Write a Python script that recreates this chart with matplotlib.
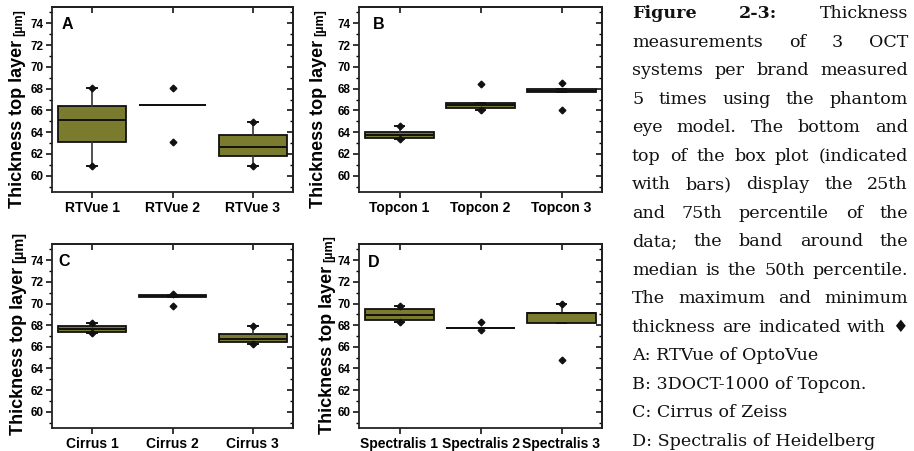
import matplotlib
matplotlib.use("Agg")
import matplotlib.pyplot as plt
from matplotlib.ticker import MultipleLocator, FixedLocator

# ---------------- data ----------------
A_labels = ['RTVue 1', 'RTVue 2', 'RTVue 3']
A_q1 = [63.07, 66.45, 61.84]
A_med = [65.10, 66.45, 62.64]
A_q3 = [66.40, 66.45, 63.78]
A_whislo = [60.86, 66.45, 60.86]
A_whishi = [68.10, 66.45, 64.90]
A_min = [60.86, 63.07, 60.86]
A_max = [68.10, 68.10, 64.90]

B_labels = ['Topcon 1', 'Topcon 2', 'Topcon 3']
B_q1 = [63.50, 66.20, 67.67]
B_med = [63.70, 66.45, 67.80]
B_q3 = [63.99, 66.70, 67.98]
B_whislo = [63.38, 66.00, 67.67]
B_whishi = [64.60, 66.70, 67.98]
B_min = [63.38, 66.00, 66.08]
B_max = [64.60, 68.40, 68.50]

C_labels = ['Cirrus 1', 'Cirrus 2', 'Cirrus 3']
C_q1 = [67.34, 70.56, 66.45]
C_med = [67.64, 70.70, 66.76]
C_q3 = [67.92, 70.81, 67.16]
C_whislo = [67.25, 70.56, 66.26]
C_whishi = [68.17, 70.81, 67.92]
C_min = [67.25, 69.77, 66.26]
C_max = [68.17, 70.85, 67.92]

D_labels = ['Spectralis 1', 'Spectralis 2', 'Spectralis 3']
D_q1 = [68.45, 67.71, 68.20]
D_med = [68.95, 67.71, 69.15]
D_q3 = [69.46, 67.71, 69.15]
D_whislo = [68.31, 67.71, 68.20]
D_whishi = [69.76, 67.71, 69.98]
D_min = [68.31, 67.59, 64.76]
D_max = [69.76, 68.26, 69.98]

y_ticks = [60, 62, 64, 66, 68, 70, 72, 74]
y_label_main = 'Thickness top layer'
y_label_unit = '[\u00b5m]'

caption_lines = [
    'Figure 2-3: Thickness',
    'measurements of 3 OCT',
    'systems per brand measured',
    '5 times using the phantom',
    'eye model. The bottom and',
    'top of the box plot (indicated',
    'with bars) display the 25th',
    'and 75th percentile of the',
    'data; the band around the',
    'median is the 50th percentile.',
    'The maximum and minimum',
    'thickness are indicated with \u2666',
    'A: RTVue of OptoVue',
    'B: 3DOCT-1000 of Topcon.',
    'C: Cirrus of Zeiss',
    'D: Spectralis of Heidelberg',
]

# ---------------- figure ----------------
W, H = 914, 451
fig = plt.figure(figsize=(W / 100, H / 100), dpi=100)
plt.rcParams['font.family'] = ['Liberation Sans', 'DejaVu Sans']

OLIVE = '#7b7b30'
SANS = ['Liberation Sans', 'DejaVu Sans']


def fx(x):
    return x / W


def fy(y):
    return 1 - y / H


panels = [
    dict(letter='A', rect=(52, 7, 293, 192), labels=A_labels, q1=A_q1, med=A_med, q3=A_q3,
         lo=A_whislo, hi=A_whishi, mn=A_min, mx=A_max, letpos=(62, 17),
         ylab=(22.5, 208), unit_size=9),
    dict(letter='B', rect=(359, 7, 602, 192), labels=B_labels, q1=B_q1, med=B_med, q3=B_q3,
         lo=B_whislo, hi=B_whishi, mn=B_min, mx=B_max, letpos=(373, 17),
         ylab=(323.3, 208), unit_size=9),
    dict(letter='C', rect=(52, 244, 293, 428), labels=C_labels, q1=C_q1, med=C_med, q3=C_q3,
         lo=C_whislo, hi=C_whishi, mn=C_min, mx=C_max, letpos=(58, 254),
         ylab=(23.3, 435), unit_size=10.5),
    dict(letter='D', rect=(359, 244, 602, 428), labels=D_labels, q1=D_q1, med=D_med, q3=D_q3,
         lo=D_whislo, hi=D_whishi, mn=D_min, mx=D_max, letpos=(368, 255),
         ylab=(332.3, 434), unit_size=9),
]

ylabel_texts = []
for p in panels:
    x0, y0, x1, y1 = p['rect']
    ax = fig.add_axes([fx(x0), fy(y1), (x1 - x0) / W, (y1 - y0) / H])
    stats = []
    for i in range(3):
        stats.append(dict(med=p['med'][i], q1=p['q1'][i], q3=p['q3'][i],
                          whislo=p['lo'][i], whishi=p['hi'][i], fliers=[]))
    pos = [1, 2, 3]
    ax.bxp(stats, positions=pos, widths=0.84, patch_artist=True, showfliers=False,
           boxprops=dict(facecolor=OLIVE, edgecolor='#111111', linewidth=1.3),
           medianprops=dict(color='#111111', linewidth=1.4),
           whiskerprops=dict(color='#333333', linewidth=1.2),
           capprops=dict(color='#111111', linewidth=1.4), capwidths=0.12)
    ax.plot(pos, p['mn'], linestyle='none', marker='D', ms=3.4, color='#111111', zorder=5)
    ax.plot(pos, p['mx'], linestyle='none', marker='D', ms=3.4, color='#111111', zorder=5)
    ax.set_xlim(0.5, 3.5)
    ax.set_ylim(58.5, 75.5)
    ax.set_xticks(pos)
    ax.set_xticklabels(p['labels'], fontsize=10, fontweight='bold')
    ax.yaxis.set_major_locator(FixedLocator(y_ticks))
    ax.yaxis.set_minor_locator(MultipleLocator(1))
    ax.set_yticklabels([str(t) for t in y_ticks], fontsize=8.5, fontweight='bold')
    ax.tick_params(axis='y', which='major', direction='out', length=4, width=1.1, pad=2)
    ax.tick_params(axis='y', which='minor', direction='out', length=2.2, width=1.0)
    ax.tick_params(axis='x', which='major', direction='out', length=4, width=1.1, pad=2.5)
    for s in ax.spines.values():
        s.set_linewidth(1.3)
        s.set_color('#222222')
    sy = ax.secondary_yaxis('right')
    sy.yaxis.set_major_locator(FixedLocator(y_ticks))
    sy.yaxis.set_minor_locator(MultipleLocator(1))
    sy.tick_params(axis='y', which='major', direction='in', length=4, width=1.1, labelright=False)
    sy.tick_params(axis='y', which='minor', direction='in', length=2.2, width=1.0)
    sy.spines['right'].set_linewidth(1.3)
    sx = ax.secondary_xaxis('top')
    sx.set_xticks(pos)
    sx.tick_params(axis='x', direction='in', length=4, width=1.1, labeltop=False)
    sx.spines['top'].set_linewidth(1.3)

    lx, ly = p['letpos']
    fig.text(fx(lx), fy(ly), p['letter'], fontsize=11.5, fontweight='bold',
             ha='left', va='top', family=SANS)

    bx, by = p['ylab']
    t = fig.text(fx(bx), fy(by), y_label_main, rotation=90, rotation_mode='anchor',
                 ha='left', va='baseline', fontsize=13, fontweight='bold', family=SANS)
    ylabel_texts.append((t, bx, p['unit_size']))

renderer = fig.canvas.get_renderer()
for t, bx, us in ylabel_texts:
    bb = t.get_window_extent(renderer)
    top_px = bb.y1
    fig.text(fx(bx), (top_px + 4) / H, y_label_unit, rotation=90, rotation_mode='anchor',
             ha='left', va='baseline', fontsize=us, fontweight='bold', family=SANS)

# ---------------- caption ----------------
SERIF = ['DejaVu Serif', 'DejaVu Sans']
cx0, cx1 = 632, 908
base0, dbase = 18.3, 28.5
n_just = 12


def word_items(i, line):
    words = line.split(' ')
    items = []
    for j, w in enumerate(words):
        bold = (i == 0 and j < 2)
        items.append((w, 'bold' if bold else 'normal'))
    return items


def measure(s, size, weight):
    tt = fig.text(0, 0, s, fontsize=size, fontweight=weight, family=SERIF)
    w = tt.get_window_extent(renderer).width
    tt.remove()
    return w


ref_size = 10.0
space_ref = measure('x x', ref_size, 'normal') - measure('xx', ref_size, 'normal')
nat = []
for i in range(n_just):
    items = word_items(i, caption_lines[i])
    tot = sum(measure(w, ref_size, wt) for w, wt in items) + space_ref * (len(items) - 1)
    nat.append(tot)
cap_size = ref_size * 273.0 / max(nat)

for i, line in enumerate(caption_lines):
    yb = base0 + dbase * i
    if i < n_just:
        items = word_items(i, line)
        widths = [measure(w, cap_size, wt) for w, wt in items]
        gap = ((cx1 - cx0) - sum(widths)) / (len(items) - 1)
        x = cx0
        for (w, wt), ww in zip(items, widths):
            fig.text(fx(x), fy(yb), w, fontsize=cap_size, fontweight=wt, family=SERIF,
                     ha='left', va='baseline', color='#111111')
            x += ww + gap
    else:
        fig.text(fx(cx0), fy(yb), line, fontsize=cap_size, family=SERIF,
                 ha='left', va='baseline', color='#111111')

fig.savefig('out.png', dpi=100)
